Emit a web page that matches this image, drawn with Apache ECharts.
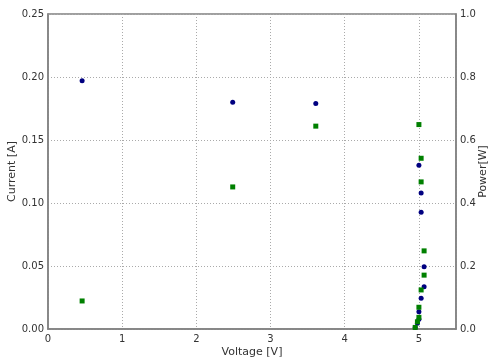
<!DOCTYPE html>
<html>
<head>
<meta charset="utf-8">
<script src="https://cdn.jsdelivr.net/npm/echarts@6/dist/echarts.min.js"></script>
<style>
  html, body { margin: 0; padding: 0; background: #fff; }
  #chart { width: 488px; height: 362px; }
</style>
</head>
<body>
<div id="chart"></div>
<script>
var voltage = [0.46, 2.49, 3.61, 5.00, 5.03, 5.03, 5.07, 5.07, 5.03, 5.00, 5.00, 4.98, 4.95];
var current = [0.197, 0.180, 0.179, 0.130, 0.108, 0.0926, 0.0495, 0.0336, 0.0244, 0.0137, 0.0077, 0.0045, 0.0012];
var power = [0.089, 0.451, 0.644, 0.649, 0.542, 0.467, 0.248, 0.171, 0.124, 0.069, 0.037, 0.023, 0.005];

var chartDom = document.getElementById('chart');
var myChart = echarts.init(chartDom);

function pairs(xs, ys) {
  var out = [];
  for (let i = 0; i < xs.length; i++) {
    out.push([xs[i], ys[i]]);
  }
  return out;
}

var textCol = '#333';
var lineCol = '#808080';
var gridLine = { show: true, lineStyle: { color: '#aaa', type: [1, 2], width: 1 } };

var option = {
  animation: false,
  textStyle: { fontFamily: 'DejaVu Sans' },
  grid: {
    left: 48, right: 32, top: 14, bottom: 33,
    containLabel: false,
    outerBoundsMode: 'none',
    show: true, borderColor: lineCol, borderWidth: 1.5
  },
  xAxis: {
    type: 'value',
    min: 0, max: 5.5, interval: 1,
    name: 'Voltage [V]',
    nameLocation: 'middle',
    nameGap: 18,
    nameMoveOverlap: false,
    nameTextStyle: { color: textCol, fontSize: 11 },
    axisLine: { lineStyle: { color: lineCol, width: 1.5 } },
    axisTick: { show: false },
    axisLabel: { color: textCol, fontSize: 10, margin: 5, showMaxLabel: false },
    splitLine: gridLine
  },
  yAxis: [
    {
      type: 'value',
      min: 0, max: 0.25, interval: 0.05,
      name: 'Current [A]',
      nameLocation: 'middle',
      nameGap: 30,
      nameMoveOverlap: false,
      nameTextStyle: { color: textCol, fontSize: 11 },
      axisLine: { show: true, lineStyle: { color: lineCol, width: 1.5 } },
      axisTick: { show: false },
      axisLabel: { color: textCol, fontSize: 10, margin: 4, formatter: function (v) { return v.toFixed(2); } },
      splitLine: gridLine
    },
    {
      type: 'value',
      min: 0, max: 1.0, interval: 0.2,
      name: 'Power[W]',
      nameLocation: 'middle',
      nameGap: 22,
      nameRotate: 90,
      nameMoveOverlap: false,
      nameTextStyle: { color: textCol, fontSize: 11 },
      axisLine: { show: true, lineStyle: { color: lineCol, width: 1.5 } },
      axisTick: { show: false },
      axisLabel: { color: textCol, fontSize: 10, margin: 4, formatter: function (v) { return v.toFixed(1); } },
      splitLine: { show: false }
    }
  ],
  series: [
    {
      name: 'Current',
      type: 'scatter',
      yAxisIndex: 0,
      symbol: 'circle',
      symbolSize: 5,
      itemStyle: { color: '#000080', opacity: 1 },
      data: pairs(voltage, current)
    },
    {
      name: 'Power',
      type: 'scatter',
      yAxisIndex: 1,
      symbol: 'rect',
      symbolSize: 5,
      itemStyle: { color: '#008000', opacity: 1 },
      data: pairs(voltage, power)
    }
  ]
};

option && myChart.setOption(option);
</script>
</body>
</html>
